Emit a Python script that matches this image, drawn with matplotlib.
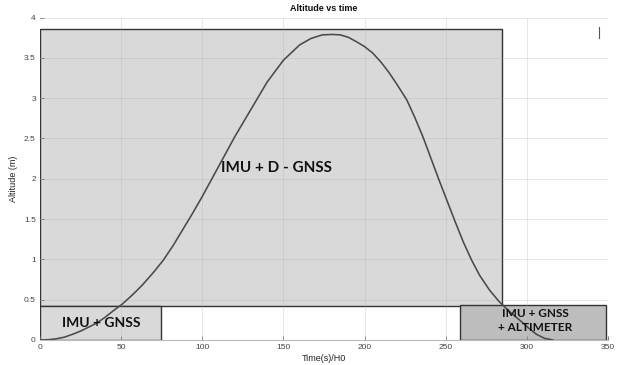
import matplotlib
matplotlib.use("Agg")
import matplotlib.pyplot as plt
from matplotlib.patches import Rectangle

plt.rcParams['font.family'] = ['Liberation Sans', 'DejaVu Sans']

# Flight altitude profile
time_s = [0, 5, 10, 15, 20, 25, 30, 35, 40, 45, 51, 57, 63, 70, 76, 82, 88, 94,
          100, 110, 120, 130, 140, 150, 160, 167, 174, 180, 185, 190, 195, 200,
          205, 210, 215, 220, 226, 231, 236, 241, 246, 251, 256, 261, 266, 271,
          277, 283, 290, 296, 301, 306, 311, 316]
altitude_m = [0, 0.003, 0.015, 0.035, 0.07, 0.11, 0.16, 0.21, 0.28, 0.36, 0.45,
              0.56, 0.68, 0.84, 0.99, 1.17, 1.37, 1.57, 1.78, 2.15, 2.52, 2.86,
              3.2, 3.47, 3.66, 3.74, 3.785, 3.79, 3.785, 3.755, 3.70, 3.64, 3.56,
              3.45, 3.32, 3.17, 2.98, 2.76, 2.52, 2.25, 1.98, 1.72, 1.46, 1.21,
              0.99, 0.80, 0.62, 0.475, 0.34, 0.24, 0.15, 0.07, 0.02, 0.0]

# Navigation modes: (label, t_start, t_end, alt_low, alt_high)
mode_labels = ["IMU + D - GNSS", "IMU + GNSS", "IMU + GNSS\n+ ALTIMETER"]
mode_t0 = [0, 0, 259]
mode_t1 = [284.5, 74.5, 349]
mode_z0 = [0.42, 0, 0]
mode_z1 = [3.855, 0.42, 0.44]
mode_fill = ["#d9d9d9", "#d9d9d9", "#bdbdbd"]
mode_text_xy = [(146, 2.13), (38, 0.21), (305, 0.245)]
mode_text_size = [11, 10, 8.5]

fig = plt.figure(figsize=(6.18, 3.65), dpi=100)
ax = fig.add_axes([0.0647, 0.0685, 0.919, 0.8835])

ax.set_xlim(0, 350)
ax.set_ylim(0, 4)
ax.set_xticks(range(0, 351, 50))
ax.set_yticks([0, 0.5, 1, 1.5, 2, 2.5, 3, 3.5, 4])
ax.set_yticklabels(["0", "0.5", "1", "1.5", "2", "2.5", "3", "3.5", "4"])
for side in ["top", "right", "left"]:
    ax.spines[side].set_visible(False)
ax.spines["bottom"].set_color("#bbbbbb")
ax.tick_params(direction="in", length=3, width=0.6, colors="#666666",
               labelsize=6, labelcolor="#444444", pad=3)

for lbl, t0, t1, z0, z1, fc, (tx, ty), fs in zip(mode_labels, mode_t0, mode_t1,
                                                  mode_z0, mode_z1, mode_fill,
                                                  mode_text_xy, mode_text_size):
    ax.add_patch(Rectangle((t0, z0), t1 - t0, z1 - z0, facecolor=fc,
                           edgecolor="#333333", linewidth=1.0, zorder=1))
    ax.text(tx, ty, lbl, ha="center", va="center", fontsize=fs,
            fontweight="bold", family=["Lato", "DejaVu Sans"], color="#111111",
            linespacing=1.3, zorder=4)

# translucent gridlines drawn over the boxes
for xv in range(50, 351, 50):
    ax.axvline(xv, color="#b0b0b0", linewidth=0.7, alpha=0.3, zorder=2)
for yv in [0.5, 1, 1.5, 2, 2.5, 3, 3.5, 4]:
    ax.axhline(yv, color="#b0b0b0", linewidth=0.7, alpha=0.3, zorder=2)

ax.plot(time_s, altitude_m, color="#4a4a4a", linewidth=1.15, zorder=3)

ax.plot([0.985, 0.985], [0.935, 0.97], transform=ax.transAxes,
        color="#555555", linewidth=0.8, clip_on=False)

ax.set_title("Altitude vs time", fontsize=6.5, fontweight="bold", pad=5,
             color="#111111")
ax.set_xlabel("Time(s)/H0", fontsize=6.5, color="#222222", labelpad=2)
ax.set_ylabel("Altitude (m)", fontsize=6.5, color="#222222", labelpad=4)

fig.savefig("out.png", dpi=100)
